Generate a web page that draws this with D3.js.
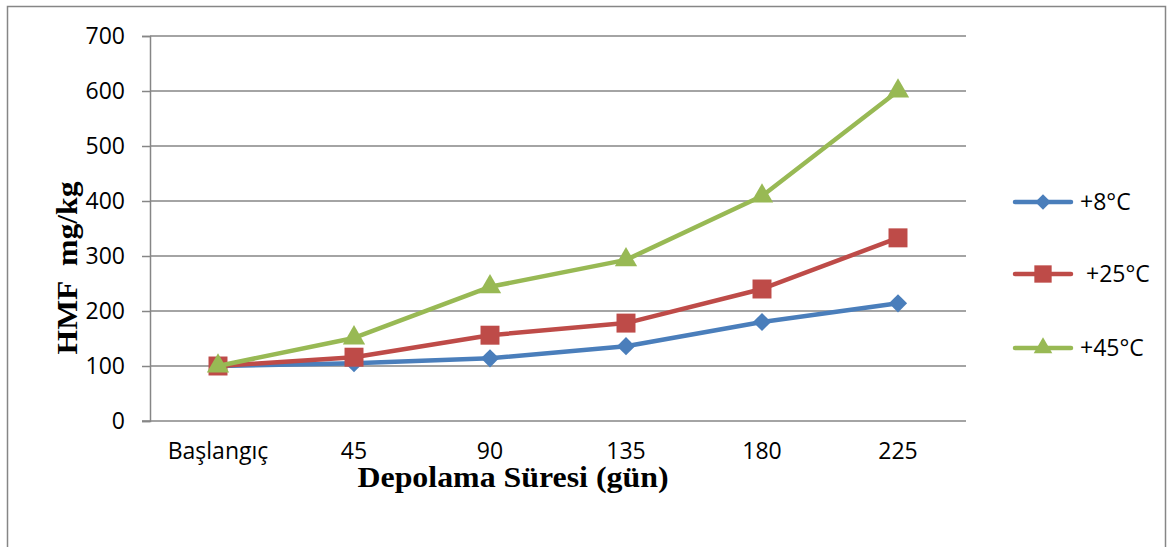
<!DOCTYPE html>
<html>
<head>
<meta charset="utf-8">
<script src="https://cdn.jsdelivr.net/npm/d3@7"></script>
<style>
  html, body { margin: 0; padding: 0; background: #fff; }
  svg { display: block; }
</style>
</head>
<body>
<svg id="chart" width="1171" height="547"></svg>
<script>
// HMF content over storage time at three temperatures
const categories = ["Başlangıç", "45", "90", "135", "180", "225"];
const seriesNames = ["+8°C", " +25°C", "+45°C"];
const values8 = [100, 105, 114, 136, 180, 214];
const values25 = [100, 116, 156, 178, 240, 333];
const values45 = [100, 151, 244, 293, 409, 600];
const yTicks = [0, 100, 200, 300, 400, 500, 600, 700];

const series = [
  { name: seriesNames[0], values: values8, color: "#4A7EBB", symbol: d3.symbolSquare, size: 165, legendSize: 120, rotate: 45 },
  { name: seriesNames[1], values: values25, color: "#BE4B48", symbol: d3.symbolSquare, size: 360, legendSize: 300, rotate: 0 },
  { name: seriesNames[2], values: values45, color: "#98B954", symbol: d3.symbolTriangle, size: 215, legendSize: 150, rotate: 0 }
];

const svg = d3.select("#chart");
const plot = { left: 150, right: 966, top: 36, bottom: 421 };
const gridColor = "#868686";
const tickFont = "'Open Sans', 'Liberation Sans', sans-serif";
const tickSize = 23;

// outer frame
svg.append("rect")
  .attr("x", 7.5).attr("y", 6.5)
  .attr("width", 1158).attr("height", 600)
  .attr("fill", "none").attr("stroke", gridColor).attr("stroke-width", 1.5);

const x = d3.scaleBand().domain(categories).range([plot.left, plot.right]);
const y = d3.scaleLinear().domain([0, 700]).range([plot.bottom, plot.top]);

// horizontal gridlines
svg.append("g").selectAll("line").data(yTicks.filter(t => t > 0)).join("line")
  .attr("x1", plot.left).attr("x2", plot.right)
  .attr("y1", d => y(d)).attr("y2", d => y(d))
  .attr("stroke", gridColor).attr("stroke-width", 1.5);

// y axis
const yAxis = svg.append("g")
  .attr("transform", `translate(${plot.left},0)`)
  .call(d3.axisLeft(y).tickValues(yTicks).tickSize(8).tickPadding(17));
yAxis.select(".domain").attr("stroke", gridColor).attr("stroke-width", 1.5);
yAxis.selectAll(".tick line").attr("stroke", gridColor).attr("stroke-width", 1.5);
yAxis.selectAll(".tick text")
  .attr("font-family", tickFont).attr("font-size", tickSize).attr("fill", "#000");

// x axis
const xAxis = svg.append("g")
  .attr("transform", `translate(0,${plot.bottom})`)
  .call(d3.axisBottom(x).tickSize(0).tickPadding(22));
xAxis.select(".domain").attr("stroke", gridColor).attr("stroke-width", 1.5)
  .attr("d", `M${plot.left - 8},0H${plot.right}`);
xAxis.selectAll(".tick text")
  .attr("font-family", tickFont).attr("font-size", tickSize).attr("fill", "#000");

// axis titles
svg.append("text")
  .attr("x", 513).attr("y", 487)
  .attr("text-anchor", "middle")
  .attr("font-family", "'Liberation Serif', 'Times New Roman', serif")
  .attr("font-weight", "bold").attr("font-size", 30)
  .attr("textLength", 311).attr("lengthAdjust", "spacingAndGlyphs")
  .text("Depolama Süresi (gün)");

svg.append("text")
  .attr("transform", "translate(77,268) rotate(-90)")
  .attr("text-anchor", "middle")
  .attr("font-family", "'Liberation Serif', 'Times New Roman', serif")
  .attr("font-weight", "bold").attr("font-size", 30)
  .attr("textLength", 173).attr("lengthAdjust", "spacingAndGlyphs")
  .attr("xml:space", "preserve")
  .text("HMF  mg/kg");

// lines and markers
const line = d3.line()
  .x((d, i) => x(categories[i]) + x.bandwidth() / 2)
  .y(d => y(d));

series.forEach(s => {
  svg.append("path")
    .attr("d", line(s.values))
    .attr("fill", "none").attr("stroke", s.color)
    .attr("stroke-width", 4.5).attr("stroke-linejoin", "round");
  svg.append("g").selectAll("path").data(s.values).join("path")
    .attr("transform", (d, i) => `translate(${x(categories[i]) + x.bandwidth() / 2},${y(d)}) rotate(${s.rotate})`)
    .attr("d", d3.symbol().type(s.symbol).size(s.size))
    .attr("fill", s.color);
});

// legend
const legendY = [202, 274, 348];
series.forEach((s, i) => {
  const g = svg.append("g").attr("transform", `translate(1015,${legendY[i]})`);
  g.append("line").attr("x1", 0).attr("x2", 56)
    .attr("stroke", s.color).attr("stroke-width", 4.5).attr("stroke-linecap", "round");
  g.append("path").attr("transform", `translate(28,0) rotate(${s.rotate})`)
    .attr("d", d3.symbol().type(s.symbol).size(s.legendSize))
    .attr("fill", s.color);
  g.append("text")
    .attr("x", 65).attr("y", 8)
    .attr("xml:space", "preserve")
    .attr("font-family", tickFont).attr("font-size", tickSize).attr("fill", "#000")
    .text(s.name);
});
</script>
</body>
</html>
